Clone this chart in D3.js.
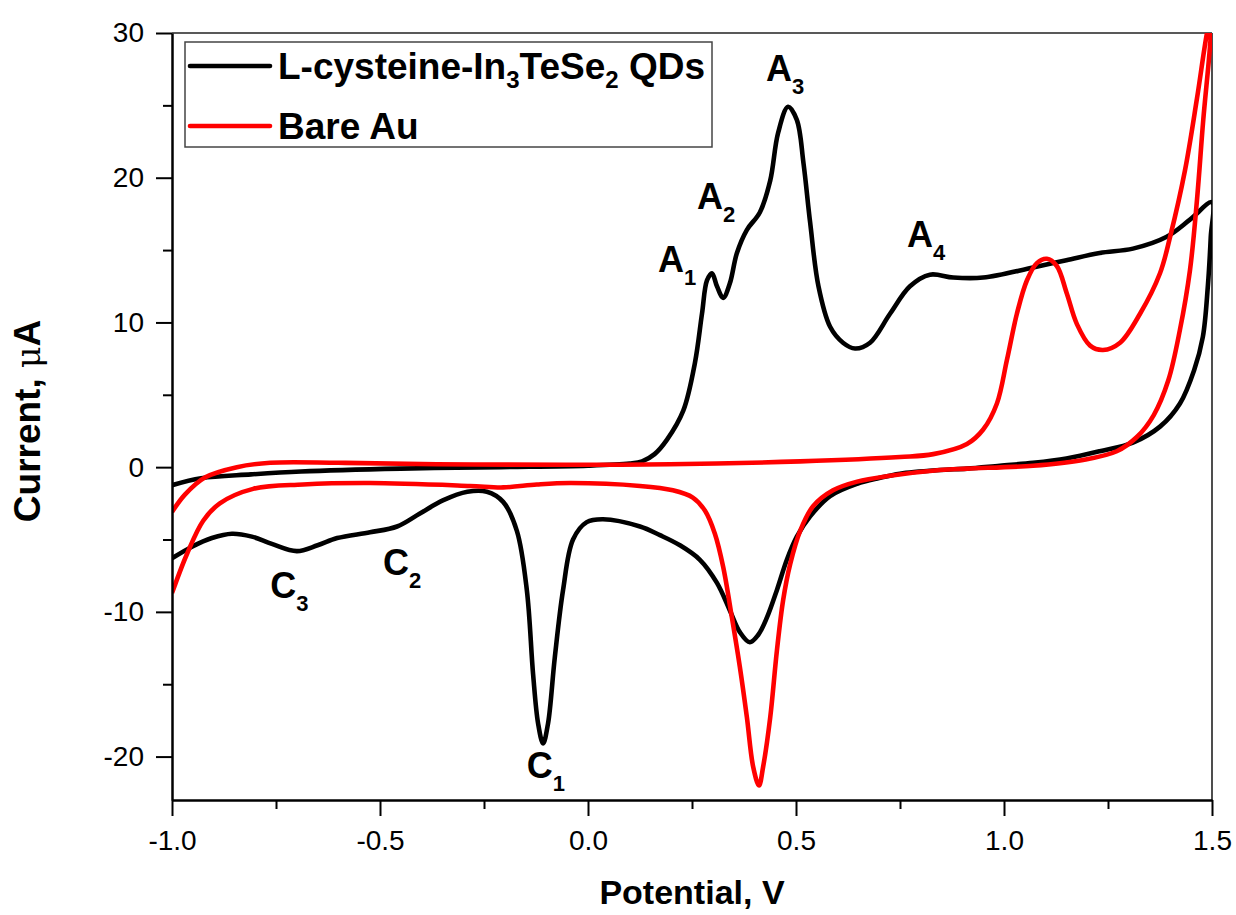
<!DOCTYPE html>
<html>
<head>
<meta charset="utf-8">
<script src="https://cdn.jsdelivr.net/npm/d3@7"></script>
<style>
  html, body { margin: 0; padding: 0; background: #fff; }
  svg { display: block; }
  text { font-family: "Liberation Sans", Arial, sans-serif; white-space: pre; }
</style>
</head>
<body>
<svg id="chart" width="1236" height="915"></svg>
<script>
// ---------- data ----------
// L-cysteine-In3TeSe2 QDs: anodic sweep (-1.0 -> 1.5 V)
const qdFwdV = [-1.0, -0.93, -0.81, -0.69, -0.45, -0.21, 0.0, 0.10, 0.13, 0.16, 0.19, 0.229, 0.257, 0.274, 0.286, 0.298, 0.31, 0.325, 0.341, 0.358, 0.382, 0.413, 0.438, 0.457, 0.481, 0.502, 0.518, 0.534, 0.554, 0.582, 0.613, 0.642, 0.678, 0.726, 0.774, 0.822, 0.878, 0.95, 1.07, 1.15, 1.23, 1.31, 1.39, 1.447, 1.5];
const qdFwdI = [-1.25, -0.76, -0.5, -0.3, -0.1, 0.0, 0.1, 0.25, 0.4, 0.9, 1.9, 3.9, 7.2, 10.6, 12.9, 13.4, 12.5, 11.7, 12.7, 14.8, 16.4, 17.6, 19.8, 23.1, 24.9, 24.0, 21.0, 16.9, 12.5, 9.7, 8.6, 8.2, 8.6, 10.6, 12.5, 13.3, 13.1, 13.1, 13.8, 14.3, 14.8, 15.1, 15.9, 17.1, 18.3];
// QDs: cathodic sweep (1.5 -> -1.0 V)
const qdRevV = [1.5, 1.497, 1.49, 1.478, 1.457, 1.423, 1.375, 1.31, 1.23, 1.15, 1.07, 0.99, 0.911, 0.846, 0.75, 0.70, 0.647, 0.582, 0.534, 0.502, 0.478, 0.454, 0.43, 0.409, 0.389, 0.365, 0.341, 0.31, 0.269, 0.221, 0.173, 0.125, 0.036, -0.003, -0.036, -0.06, -0.08, -0.096, -0.108, -0.12, -0.132, -0.147, -0.171, -0.204, -0.243, -0.29, -0.349, -0.404, -0.459, -0.524, -0.603, -0.65, -0.70, -0.76, -0.808, -0.856, -0.904, -0.952, -1.0];
const qdRevI = [18.3, 15.9, 12.5, 9.0, 6.7, 4.4, 2.8, 1.7, 1.1, 0.6, 0.3, 0.1, -0.1, -0.2, -0.45, -0.75, -1.15, -2.0, -3.4, -4.8, -6.4, -8.5, -10.4, -11.6, -12.1, -11.4, -9.9, -8.0, -6.4, -5.4, -4.7, -4.1, -3.6, -3.8, -5.0, -8.5, -13.2, -17.7, -19.1, -17.7, -14.3, -8.5, -4.4, -2.4, -1.7, -1.7, -2.3, -3.2, -4.1, -4.5, -4.9, -5.4, -5.8, -5.3, -4.8, -4.6, -4.9, -5.5, -6.3];
// Bare Au: anodic sweep
const auFwdV = [-1.0, -0.969, -0.92, -0.844, -0.764, -0.6, -0.363, 0.197, 0.51, 0.75, 0.83, 0.911, 0.95, 0.983, 1.007, 1.031, 1.055, 1.079, 1.103, 1.127, 1.151, 1.175, 1.207, 1.238, 1.279, 1.327, 1.375, 1.40, 1.435, 1.464, 1.488, 1.5];
const auFwdI = [-3.1, -1.9, -0.7, 0.0, 0.3, 0.3, 0.2, 0.2, 0.4, 0.7, 0.9, 1.6, 2.6, 4.4, 7.4, 10.6, 12.9, 14.1, 14.4, 13.9, 12.0, 9.9, 8.4, 8.1, 8.6, 10.6, 13.4, 16.0, 20.5, 25.5, 30.0, 31.5];
// Bare Au: cathodic sweep
const auRevV = [1.5, 1.495, 1.479, 1.464, 1.447, 1.423, 1.395, 1.36, 1.32, 1.271, 1.19, 1.07, 0.911, 0.846, 0.726, 0.647, 0.589, 0.541, 0.51, 0.486, 0.469, 0.454, 0.438, 0.421, 0.411, 0.397, 0.382, 0.365, 0.346, 0.325, 0.305, 0.281, 0.252, 0.204, 0.125, -0.043, -0.123, -0.204, -0.284, -0.524, -0.685, -0.805, -0.885, -0.925, -0.964, -1.0];
const auRevI = [31.5, 29.0, 24.0, 18.5, 13.6, 9.5, 6.0, 3.6, 2.1, 1.1, 0.5, 0.1, -0.1, -0.2, -0.6, -1.0, -1.6, -2.7, -4.4, -6.7, -9.2, -12.7, -17.3, -20.7, -22.0, -20.7, -17.3, -13.8, -10.4, -6.9, -4.6, -3.0, -2.1, -1.6, -1.3, -1.1, -1.2, -1.4, -1.3, -1.1, -1.2, -1.5, -2.5, -3.7, -6.0, -8.7];

const seriesNames = ["L-cysteine-In3TeSe2 QDs", "Bare Au"];
const seriesColors = ["#000000", "#ff0000"];

const xTicks = [-1.0, -0.5, 0.0, 0.5, 1.0, 1.5];
const xMinorTicks = [-0.75, -0.25, 0.25, 0.75, 1.25];
const yTicks = [-20, -10, 0, 10, 20, 30];
const yMinorTicks = [-15, -5, 5, 15, 25];

// peak annotations (anchored in data coordinates)
const annMain = ["A", "A", "A", "A", "C", "C", "C"];
const annSub  = ["1", "2", "3", "4", "1", "2", "3"];
const annV    = [0.168, 0.262, 0.428, 0.767, -0.147, -0.493, -0.764];
const annI    = [13.5, 17.84, 26.7, 15.2, -21.5, -7.47, -9.06];

// ---------- layout ----------
const svg = d3.select("#chart");
const L = 172, R = 1212, T = 33, B = 800;
const x = d3.scaleLinear().domain([-1.0, 1.5]).range([L, R]);
const y = d3.scaleLinear().domain([-23, 30]).range([B, T]);

svg.append("defs").append("clipPath").attr("id", "plotclip")
  .append("rect").attr("x", L).attr("y", T).attr("width", R - L).attr("height", B - T);

// frame top/right
svg.append("line").attr("x1", L).attr("x2", R).attr("y1", T).attr("y2", T)
  .attr("stroke", "#222").attr("stroke-width", 1.6);
svg.append("line").attr("x1", R).attr("x2", R).attr("y1", T).attr("y2", B)
  .attr("stroke", "#222").attr("stroke-width", 1.6);

// curves
const line = d3.line().x(d => x(d[0])).y(d => y(d[1])).curve(d3.curveCatmullRom.alpha(0.5));
const zip = (a, b) => a.map((v, i) => [v, b[i]]);
const qdPts = zip(qdFwdV, qdFwdI).concat(zip(qdRevV, qdRevI).slice(1));
const auPts = zip(auFwdV, auFwdI).concat(zip(auRevV, auRevI).slice(1));
const g = svg.append("g").attr("clip-path", "url(#plotclip)");
g.append("path").attr("d", line(qdPts)).attr("fill", "none")
  .attr("stroke", seriesColors[0]).attr("stroke-width", 4.6).attr("stroke-linejoin", "round");
g.append("path").attr("d", line(auPts)).attr("fill", "none")
  .attr("stroke", seriesColors[1]).attr("stroke-width", 4.6).attr("stroke-linejoin", "round");

// axes
const xAxis = d3.axisBottom(x).tickValues(xTicks).tickSize(16).tickSizeOuter(0).tickPadding(14);
const gx = svg.append("g").attr("transform", `translate(0,${B})`).call(xAxis);
gx.select(".domain").attr("stroke", "#000").attr("stroke-width", 2.5);
gx.selectAll(".tick line").attr("stroke", "#000").attr("stroke-width", 2);
gx.selectAll(".tick text").attr("font-size", 28).attr("fill", "#000")
  .attr("font-family", "'Liberation Sans', Arial, sans-serif")
  .text(d => d.toFixed(1));
const gxm = svg.append("g").attr("transform", `translate(0,${B})`)
  .call(d3.axisBottom(x).tickValues(xMinorTicks).tickSize(9).tickFormat(""));
gxm.select(".domain").remove();
gxm.selectAll(".tick line").attr("stroke", "#000").attr("stroke-width", 2);

const yAxis = d3.axisLeft(y).tickValues(yTicks).tickSize(16).tickSizeOuter(0).tickPadding(12);
const gy = svg.append("g").attr("transform", `translate(${L},0)`).call(yAxis);
gy.select(".domain").attr("stroke", "#000").attr("stroke-width", 2.5);
gy.selectAll(".tick line").attr("stroke", "#000").attr("stroke-width", 2);
gy.selectAll(".tick text").attr("font-size", 28).attr("fill", "#000")
  .attr("font-family", "'Liberation Sans', Arial, sans-serif")
  .text(d => String(d));
const gym = svg.append("g").attr("transform", `translate(${L},0)`)
  .call(d3.axisLeft(y).tickValues(yMinorTicks).tickSize(9).tickFormat(""));
gym.select(".domain").remove();
gym.selectAll(".tick line").attr("stroke", "#000").attr("stroke-width", 2);

// axis titles
svg.append("text").attr("x", (L + R) / 2).attr("y", 904).attr("text-anchor", "middle")
  .attr("font-size", 34).attr("font-weight", "bold").text("Potential, V");
const yt = svg.append("text").attr("transform", `translate(40,421) rotate(-90)`)
  .attr("text-anchor", "middle").attr("font-size", 37).attr("font-weight", "bold");
yt.append("tspan").text("Current, ");
yt.append("tspan").attr("font-weight", "normal").attr("font-family", "'DejaVu Serif', serif")
  .attr("font-size", 33).text("\u03bc");
yt.append("tspan").text("A");

// legend
const lg = svg.append("g");
lg.append("rect").attr("x", 185).attr("y", 42).attr("width", 527).attr("height", 105)
  .attr("fill", "#fff").attr("stroke", "#444").attr("stroke-width", 1.5);
const legRows = [66, 126];
legRows.forEach((ly, i) => {
  lg.append("line").attr("x1", 190).attr("x2", 270).attr("y1", ly).attr("y2", ly)
    .attr("stroke", seriesColors[i]).attr("stroke-width", 4.6).attr("stroke-linecap", "round");
});
const t1 = lg.append("text").attr("x", 278).attr("y", 79).attr("font-size", 37).attr("font-weight", "bold");
t1.append("tspan").text("L-cysteine-In");
t1.append("tspan").attr("dy", 9).attr("font-size", 24).text("3");
t1.append("tspan").attr("dy", -9).text("TeSe");
t1.append("tspan").attr("dy", 9).attr("font-size", 24).text("2");
t1.append("tspan").attr("dy", -9).text(" QDs");
lg.append("text").attr("x", 278).attr("y", 139).attr("font-size", 37).attr("font-weight", "bold")
  .text(seriesNames[1]);

// peak labels
annMain.forEach((m, i) => {
  const t = svg.append("text").attr("x", x(annV[i])).attr("y", y(annI[i]))
    .attr("font-size", 36).attr("font-weight", "bold");
  t.append("tspan").text(m);
  t.append("tspan").attr("dy", 13).attr("font-size", 22).text(annSub[i]);
});
</script>
</body>
</html>
